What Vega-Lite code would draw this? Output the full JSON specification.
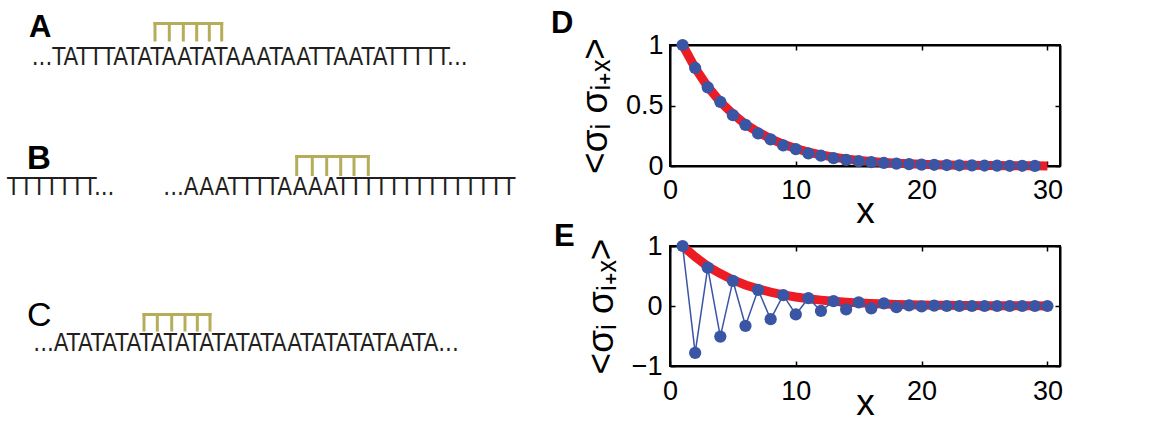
{
  "$schema": "https://vega.github.io/schema/vega-lite/v6.json",
  "padding": {"left": 0, "top": 8, "right": 0, "bottom": 0},
  "background": "white",
  "datasets": {
    "brackets": [
      {"panel": "A", "x": 155, "x2": 221.7, "y": 20.5, "y2": 20.5},
      {"panel": "A", "x": 155, "x2": 155, "y": 20.5, "y2": 37},
      {"panel": "A", "x": 169.3, "x2": 169.3, "y": 20.5, "y2": 37},
      {"panel": "A", "x": 183.3, "x2": 183.3, "y": 20.5, "y2": 37},
      {"panel": "A", "x": 196.7, "x2": 196.7, "y": 20.5, "y2": 37},
      {"panel": "A", "x": 209.3, "x2": 209.3, "y": 20.5, "y2": 37},
      {"panel": "A", "x": 221.7, "x2": 221.7, "y": 20.5, "y2": 37},
      {"panel": "B", "x": 296.7, "x2": 368.3, "y": 153.5, "y2": 153.5},
      {"panel": "B", "x": 296.7, "x2": 296.7, "y": 153.5, "y2": 171.5},
      {"panel": "B", "x": 312.3, "x2": 312.3, "y": 153.5, "y2": 171.5},
      {"panel": "B", "x": 326.7, "x2": 326.7, "y": 153.5, "y2": 171.5},
      {"panel": "B", "x": 340.7, "x2": 340.7, "y": 153.5, "y2": 171.5},
      {"panel": "B", "x": 354, "x2": 354, "y": 153.5, "y2": 171.5},
      {"panel": "B", "x": 368.3, "x2": 368.3, "y": 153.5, "y2": 171.5},
      {"panel": "C", "x": 144, "x2": 210, "y": 311.5, "y2": 311.5},
      {"panel": "C", "x": 144, "x2": 144, "y": 311.5, "y2": 327},
      {"panel": "C", "x": 157.3, "x2": 157.3, "y": 311.5, "y2": 327},
      {"panel": "C", "x": 171.7, "x2": 171.7, "y": 311.5, "y2": 327},
      {"panel": "C", "x": 185, "x2": 185, "y": 311.5, "y2": 327},
      {"panel": "C", "x": 197.3, "x2": 197.3, "y": 311.5, "y2": 327},
      {"panel": "C", "x": 210, "x2": 210, "y": 311.5, "y2": 327}
    ],
    "sequences": [
      {"panel": "A", "t": "...TATTTATATAATATAAATAATTAATATTTTT...", "x": 31.7, "y": 61.7},
      {"panel": "B", "t": "TTTTTTT...", "x": 7, "y": 191.7},
      {"panel": "B", "t": "...AAATTTTAAAATTTTTTTTTTTTTT", "x": 163.3, "y": 191.7},
      {"panel": "C", "t": "...ATATATATATATATATATAATATATATAATA...", "x": 33.3, "y": 348.3}
    ],
    "labelsSmall": [
      {"t": "A", "x": 29, "y": 34},
      {"t": "D", "x": 551, "y": 30},
      {"t": "E", "x": 554, "y": 243.3}
    ],
    "labelB": [{"t": "B", "x": 27, "y": 166}],
    "labelC": [{"t": "C", "x": 27, "y": 323.3}],
    "curveD": [
      {"x": 1, "y": 1.0}, {"x": 2, "y": 0.81}, {"x": 3, "y": 0.655}, {"x": 4, "y": 0.53},
      {"x": 5, "y": 0.43}, {"x": 6, "y": 0.345}, {"x": 7, "y": 0.28}, {"x": 8, "y": 0.225},
      {"x": 9, "y": 0.18}, {"x": 10, "y": 0.145}, {"x": 11, "y": 0.115}, {"x": 12, "y": 0.092},
      {"x": 13, "y": 0.073}, {"x": 14, "y": 0.058}, {"x": 15, "y": 0.046}, {"x": 16, "y": 0.037},
      {"x": 17, "y": 0.029}, {"x": 18, "y": 0.023}, {"x": 19, "y": 0.018}, {"x": 20, "y": 0.014},
      {"x": 21, "y": 0.011}, {"x": 22, "y": 0.009}, {"x": 23, "y": 0.007}, {"x": 24, "y": 0.006},
      {"x": 25, "y": 0.005}, {"x": 26, "y": 0.004}, {"x": 27, "y": 0.003}, {"x": 28, "y": 0.002},
      {"x": 29, "y": 0.002}, {"x": 30, "y": 0.001}
    ],
    "dotsD": [
      {"x": 1, "y": 1.0}, {"x": 2, "y": 0.81}, {"x": 3, "y": 0.65}, {"x": 4, "y": 0.53},
      {"x": 5, "y": 0.42}, {"x": 6, "y": 0.34}, {"x": 7, "y": 0.27}, {"x": 8, "y": 0.22},
      {"x": 9, "y": 0.17}, {"x": 10, "y": 0.14}, {"x": 11, "y": 0.105}, {"x": 12, "y": 0.085},
      {"x": 13, "y": 0.065}, {"x": 14, "y": 0.05}, {"x": 15, "y": 0.04}, {"x": 16, "y": 0.032},
      {"x": 17, "y": 0.025}, {"x": 18, "y": 0.02}, {"x": 19, "y": 0.016}, {"x": 20, "y": 0.012},
      {"x": 21, "y": 0.01}, {"x": 22, "y": 0.008}, {"x": 23, "y": 0.006}, {"x": 24, "y": 0.005},
      {"x": 25, "y": 0.004}, {"x": 26, "y": 0.003}, {"x": 27, "y": 0.002}, {"x": 28, "y": 0.002},
      {"x": 29, "y": 0.001}
    ],
    "curveE": [
      {"x": 1, "y": 1.0}, {"x": 2, "y": 0.82}, {"x": 3, "y": 0.66}, {"x": 4, "y": 0.54},
      {"x": 5, "y": 0.435}, {"x": 6, "y": 0.35}, {"x": 7, "y": 0.285}, {"x": 8, "y": 0.23},
      {"x": 9, "y": 0.185}, {"x": 10, "y": 0.15}, {"x": 11, "y": 0.12}, {"x": 12, "y": 0.098},
      {"x": 13, "y": 0.08}, {"x": 14, "y": 0.064}, {"x": 15, "y": 0.052}, {"x": 16, "y": 0.042},
      {"x": 17, "y": 0.034}, {"x": 18, "y": 0.027}, {"x": 19, "y": 0.022}, {"x": 20, "y": 0.018},
      {"x": 21, "y": 0.014}, {"x": 22, "y": 0.012}, {"x": 23, "y": 0.009}, {"x": 24, "y": 0.008},
      {"x": 25, "y": 0.006}, {"x": 26, "y": 0.005}, {"x": 27, "y": 0.004}, {"x": 28, "y": 0.003},
      {"x": 29, "y": 0.003}, {"x": 30, "y": 0.002}
    ],
    "dotsE": [
      {"x": 1, "y": 1.0}, {"x": 2, "y": -0.78}, {"x": 3, "y": 0.64}, {"x": 4, "y": -0.51},
      {"x": 5, "y": 0.42}, {"x": 6, "y": -0.33}, {"x": 7, "y": 0.27}, {"x": 8, "y": -0.22},
      {"x": 9, "y": 0.18}, {"x": 10, "y": -0.14}, {"x": 11, "y": 0.13}, {"x": 12, "y": -0.083},
      {"x": 13, "y": 0.08}, {"x": 14, "y": -0.055}, {"x": 15, "y": 0.06}, {"x": 16, "y": -0.04},
      {"x": 17, "y": 0.045}, {"x": 18, "y": -0.02}, {"x": 19, "y": 0.01}, {"x": 20, "y": -0.005},
      {"x": 21, "y": 0.005}, {"x": 22, "y": 0.0}, {"x": 23, "y": 0.0}, {"x": 24, "y": 0.0},
      {"x": 25, "y": 0.0}, {"x": 26, "y": 0.0}, {"x": 27, "y": 0.0}, {"x": 28, "y": 0.0},
      {"x": 29, "y": 0.0}, {"x": 30, "y": 0.0}
    ]
  },
  "hconcat": [
    {
      "width": 600,
      "height": 381,
      "view": {"stroke": null, "fill": "white"},
      "encoding": {
        "x": {"field": "x", "type": "quantitative", "scale": {"domain": [0, 600], "nice": false, "zero": false}, "axis": null},
        "y": {"field": "y", "type": "quantitative", "scale": {"domain": [42, 423], "nice": false, "zero": false, "reverse": true}, "axis": null}
      },
      "layer": [
        {
          "data": {"name": "brackets"},
          "mark": {"type": "rule", "color": "#b5ad5a", "strokeWidth": 3, "strokeCap": "square"},
          "encoding": {"x2": {"field": "x2"}, "y2": {"field": "y2"}}
        },
        {
          "data": {"name": "sequences"},
          "mark": {"type": "text", "align": "left", "baseline": "alphabetic", "font": "Liberation Sans Narrow, DejaVu Sans Condensed, Liberation Sans", "fontSize": 24, "color": "#231f20"},
          "encoding": {"text": {"field": "t"}}
        },
        {
          "data": {"name": "labelsSmall"},
          "mark": {"type": "text", "align": "left", "baseline": "alphabetic", "font": "Liberation Sans", "fontWeight": "bold", "fontSize": 31, "color": "black"},
          "encoding": {"text": {"field": "t"}}
        },
        {
          "data": {"name": "labelB"},
          "mark": {"type": "text", "align": "left", "baseline": "alphabetic", "font": "Liberation Sans", "fontWeight": "bold", "fontSize": 33, "color": "black"},
          "encoding": {"text": {"field": "t"}}
        },
        {
          "data": {"name": "labelC"},
          "mark": {"type": "text", "align": "left", "baseline": "alphabetic", "font": "Liberation Sans", "fontSize": 34, "color": "black"},
          "encoding": {"text": {"field": "t"}}
        }
      ]
    },
    {
      "vconcat": [
        {
          "width": 390,
          "height": 121,
          "layer": [
            {
              "data": {"name": "curveD"},
              "mark": {"type": "line", "color": "#ec1c24", "strokeWidth": 9},
              "encoding": {
                "x": {"field": "x", "type": "quantitative", "scale": {"domain": [0, 31], "nice": false},
                  "axis": {"orient": "bottom", "values": [0, 10, 20, 30], "format": "~f", "tickSize": -5, "labelPadding": 16, "title": "x", "titlePadding": -10}},
                "y": {"field": "y", "type": "quantitative", "scale": {"domain": [0, 1], "nice": false},
                  "axis": {"orient": "left", "values": [0, 0.5, 1], "format": "~f", "tickSize": -5, "labelPadding": 12, "title": "<σᵢ σᵢ₊ₓ>", "titlePadding": 11}}
              }
            },
            {
              "data": {"name": "dotsD"},
              "mark": {"type": "point", "filled": true, "size": 150, "color": "#3b55a5", "opacity": 1},
              "encoding": {
                "x": {"field": "x", "type": "quantitative", "scale": {"domain": [0, 31], "nice": false},
                  "axis": {"orient": "top", "values": [0, 10, 20, 30], "tickSize": -5, "labels": false, "title": null}},
                "y": {"field": "y", "type": "quantitative", "scale": {"domain": [0, 1], "nice": false},
                  "axis": {"orient": "right", "values": [0, 0.5, 1], "tickSize": -5, "labels": false, "title": null}}
              }
            }
          ],
          "resolve": {"axis": {"x": "independent", "y": "independent"}}
        },
        {
          "width": 390,
          "height": 120,
          "layer": [
            {
              "mark": {"type": "rule", "color": "black", "strokeWidth": 1},
              "encoding": {"y": {"datum": 0, "type": "quantitative", "scale": {"domain": [-1, 1], "nice": false}, "axis": null}}
            },
            {
              "data": {"name": "curveE"},
              "mark": {"type": "line", "color": "#ec1c24", "strokeWidth": 9},
              "encoding": {
                "x": {"field": "x", "type": "quantitative", "scale": {"domain": [0, 31], "nice": false},
                  "axis": {"orient": "bottom", "values": [0, 10, 20, 30], "format": "~f", "tickSize": -5, "labelPadding": 17, "title": "x", "titlePadding": -19}},
                "y": {"field": "y", "type": "quantitative", "scale": {"domain": [-1, 1], "nice": false},
                  "axis": {"orient": "left", "values": [-1, 0, 1], "format": "~f", "tickSize": -5, "labelPadding": 13, "title": "<σᵢ σᵢ₊ₓ>", "titlePadding": 11}}
              }
            },
            {
              "data": {"name": "dotsE"},
              "mark": {"type": "line", "color": "#3b55a5", "strokeWidth": 1.5},
              "encoding": {
                "x": {"field": "x", "type": "quantitative", "scale": {"domain": [0, 31], "nice": false}, "axis": null},
                "y": {"field": "y", "type": "quantitative", "scale": {"domain": [-1, 1], "nice": false}, "axis": null}
              }
            },
            {
              "data": {"name": "dotsE"},
              "mark": {"type": "point", "filled": true, "size": 150, "color": "#3b55a5", "opacity": 1},
              "encoding": {
                "x": {"field": "x", "type": "quantitative", "scale": {"domain": [0, 31], "nice": false},
                  "axis": {"orient": "top", "values": [0, 10, 20, 30], "tickSize": -5, "labels": false, "title": null}},
                "y": {"field": "y", "type": "quantitative", "scale": {"domain": [-1, 1], "nice": false},
                  "axis": {"orient": "right", "values": [-1, 0, 1], "tickSize": -5, "labels": false, "title": null}}
              }
            }
          ],
          "resolve": {"axis": {"x": "independent", "y": "independent"}}
        }
      ],
      "spacing": 80,
      "bounds": "flush"
    }
  ],
  "spacing": 70,
  "bounds": "flush",
  "config": {
    "font": "Liberation Sans",
    "view": {"stroke": "black", "strokeWidth": 2},
    "axis": {
      "grid": false,
      "domainColor": "black",
      "domainWidth": 2,
      "tickColor": "black",
      "tickWidth": 1.5,
      "labelColor": "black",
      "titleColor": "black",
      "labelFont": "Liberation Sans",
      "titleFont": "Liberation Sans",
      "labelFontSize": 27,
      "titleFontSize": 37,
      "titleFontWeight": "normal",
      "labelFlush": false,
      "labelOverlap": false,
      "labelBound": false
    }
  }
}
